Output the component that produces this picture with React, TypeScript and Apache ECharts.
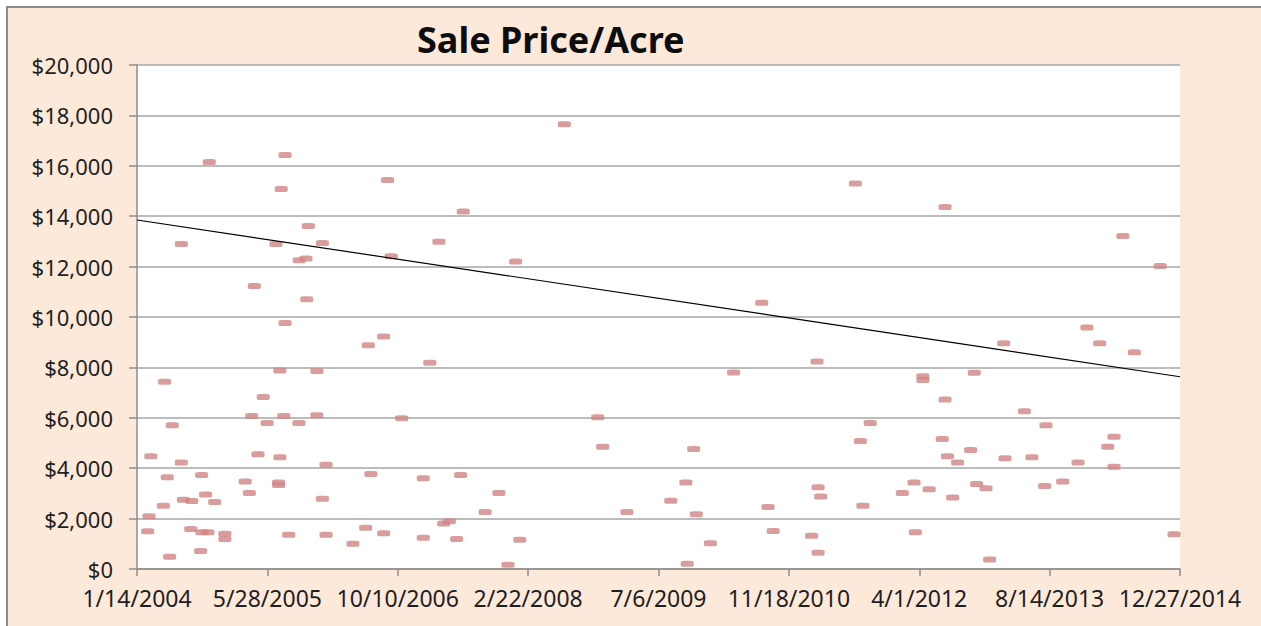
import React, { useEffect, useRef } from "react";
import * as echarts from "echarts";

// Sale date as days after 1/14/2004, and sale price per acre (USD)
const startDate = "2004-01-14";
const saleDays = [
  277, 568, 553, 961, 1251, 657, 170, 533, 711, 1158, 622, 648, 975, 450, 651, 568, 946, 887, 1123, 548,
  690, 106, 484, 440, 563, 690, 499, 621, 1015, 135, 53, 464, 548, 170, 725, 116, 248, 415, 543, 543,
  897, 1098, 1241, 1388, 263, 431, 711, 101, 178, 210, 298, 1335, 46, 41, 206, 249, 272, 337, 337, 582,
  725, 828, 877, 946, 1098, 1176, 1198, 1226, 125, 244, 1639, 2755, 1452, 2396, 2608, 2288, 1767, 1786, 2135, 2812,
  2774, 2105, 2047, 1879, 2145, 2420, 2612, 2622, 2784, 1468, 1423, 2110, 2199, 2440, 2587, 2612, 3099, 3781, 3924, 3643,
  3692, 3324, 3825, 3014, 3014, 3211, 3099, 3403, 3486, 3088, 3747, 3197, 3723, 3108, 3147, 3329, 3432, 3609, 3747, 2935,
  2980, 3038, 3128, 3220, 3256, 3481, 3550, 2985, 3270, 3977,
];
const salePrices = [
  16150, 16430, 15080, 15440, 14190, 13610, 12900, 12900, 12940, 12990, 12250, 12320, 12410, 11230, 10700, 9760, 9230, 8880, 8180, 7880,
  7860, 7430, 6830, 6070, 6070, 6100, 5790, 5790, 5980, 5700, 4470, 4550, 4430, 4230, 4140, 3640, 3730, 3470, 3330, 3430,
  3770, 3600, 3730, 3020, 2960, 3020, 2790, 2510, 2750, 2700, 2660, 2260, 2090, 1500, 1590, 1460, 1460, 1400, 1190, 1360,
  1360, 1000, 1640, 1420, 1240, 1810, 1890, 1190, 490, 710, 17650, 15300, 12200, 10570, 8230, 7800, 6020, 4850, 4760, 5790,
  5080, 3430, 2710, 2260, 2170, 2460, 3240, 2880, 2510, 1160, 170, 210, 1020, 1510, 1320, 640, 14370, 13210, 12020, 9580,
  8960, 8960, 8600, 7500, 7650, 7790, 6730, 6260, 5700, 5160, 5250, 4720, 4850, 4470, 4230, 4390, 4430, 4230, 4060, 3020,
  3430, 3160, 2840, 3370, 3200, 3290, 3470, 1460, 380, 1380,
];
// Linear trend line, read at the two ends of the date axis
const trendDays = [0, 4000];
const trendPrices = [13850, 7630];
const titleText = "Sale Price/Acre";

function dayLabel(v: number): string {
  const d = new Date(Date.parse(startDate + "T00:00:00Z") + v * 86400000);
  return `${d.getUTCMonth() + 1}/${d.getUTCDate()}/${d.getUTCFullYear()}`;
}

function moneyLabel(v: number): string {
  return "$" + v.toLocaleString("en-US");
}

export default function App() {
  const ref = useRef<HTMLDivElement>(null);
  useEffect(() => {
    if (!ref.current) return;
    const chart = echarts.init(ref.current, undefined, { renderer: "svg" });
    const font = "'Noto Sans', sans-serif";
    chart.setOption({
      animation: false,
      backgroundColor: "#ffffff",
      graphic: [
        {
          type: "rect",
          z: -10,
          silent: true,
          shape: { x: 7, y: 7, width: 1300, height: 700 },
          style: { fill: "#fde9da", stroke: "#8c8c8c", lineWidth: 2 },
        },
        {
          type: "text",
          x: 417,
          y: 39,
          style: {
            text: titleText,
            fontFamily: font,
            fontWeight: "bold",
            fontSize: 36,
            fill: "#0d0d0d",
            textVerticalAlign: "middle",
          },
        },
      ],
      grid: { left: 137, right: 81, top: 65, bottom: 57, show: true, backgroundColor: "#ffffff", borderWidth: 0 },
      xAxis: {
        type: "value",
        min: 0,
        max: 4000,
        interval: 500,
        axisLine: { show: true, onZero: false, lineStyle: { color: "#8c8c8c", width: 1.5 } },
        axisTick: { show: true, length: 7, lineStyle: { color: "#8c8c8c", width: 1.5 } },
        splitLine: { show: false },
        axisLabel: {
          formatter: dayLabel,
          fontFamily: font,
          fontSize: 23,
          color: "#1f1f1f",
          margin: 17,
          hideOverlap: false,
        },
      },
      yAxis: {
        type: "value",
        min: 0,
        max: 20000,
        interval: 2000,
        axisLine: { show: true, lineStyle: { color: "#8c8c8c", width: 1.5 } },
        axisTick: { show: true, length: 8, lineStyle: { color: "#8c8c8c", width: 1.5 } },
        splitLine: { show: true, lineStyle: { color: "#a6a6a6", width: 1.5 } },
        axisLabel: {
          formatter: moneyLabel,
          fontFamily: font,
          fontSize: 22,
          color: "#1f1f1f",
          margin: 24,
        },
      },
      series: [
        {
          type: "scatter",
          data: saleDays.map((d, i) => [d, salePrices[i]]),
          symbol: "roundRect",
          symbolSize: [13, 6],
          itemStyle: { color: "#cf8585" },
          z: 2,
        },
        {
          type: "line",
          data: trendDays.map((d, i) => [d, trendPrices[i]]),
          showSymbol: false,
          symbol: "none",
          lineStyle: { color: "#000000", width: 1.2 },
          z: 3,
        },
      ],
    });
    return () => chart.dispose();
  }, []);
  return (
    <div
      ref={ref}
      style={{ position: "fixed", left: 0, top: 0, width: 1261, height: 626 }}
    />
  );
}
